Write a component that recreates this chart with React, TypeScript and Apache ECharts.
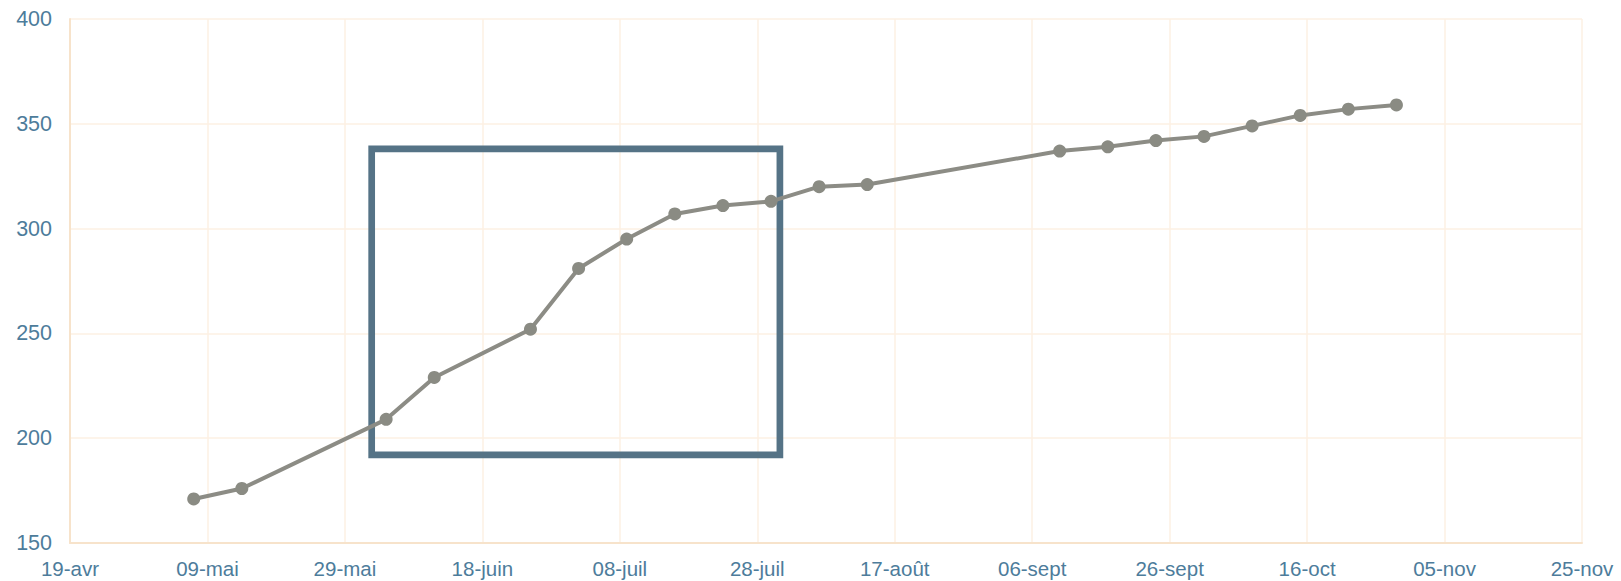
import React, { useEffect, useRef } from "react";
import * as echarts from "echarts";

// Observation dates and values
const dates = [
  "2018-05-07", "2018-05-14", "2018-06-04", "2018-06-11", "2018-06-25",
  "2018-07-02", "2018-07-09", "2018-07-16", "2018-07-23", "2018-07-30",
  "2018-08-06", "2018-08-13", "2018-09-10", "2018-09-17", "2018-09-24",
  "2018-10-01", "2018-10-08", "2018-10-15", "2018-10-22", "2018-10-29",
];
const values = [
  171, 176, 209, 229, 252, 281, 295, 307, 311, 313,
  320, 321, 337, 339, 342, 344, 349, 354, 357, 359,
];

// Axis range (dates) and tick step in days
const axisStart = "2018-04-19";
const axisEnd = "2018-11-25";
const tickStepDays = 20;
const yMin = 150;
const yMax = 400;
const yStep = 50;

// Highlight rectangle (dates and values)
const highlightStart = "2018-06-01T21:30:00Z";
const highlightEnd = "2018-07-31T07:00:00Z";
const highlightLow = 192;
const highlightHigh = 338;

const frMonths = ["janv", "févr", "mars", "avr", "mai", "juin", "juil", "août", "sept", "oct", "nov", "déc"];

const DAY = 86400000;
const toMs = (d: string) => Date.parse(d.length === 10 ? d + "T00:00:00Z" : d);
const START = toMs(axisStart);
const toDay = (d: string) => (toMs(d) - START) / DAY;

function fmt(day: number) {
  const dt = new Date(START + Math.round(day) * DAY);
  const dd = String(dt.getUTCDate()).padStart(2, "0");
  return dd + "-" + frMonths[dt.getUTCMonth()];
}

export default function App() {
  const ref = useRef<HTMLDivElement>(null);
  useEffect(() => {
    document.body.style.margin = "0";
    const chart = echarts.init(ref.current!, null, { renderer: "svg" });
    const font = "'Liberation Sans', Arial, sans-serif";
    const labelColor = "#4D7C9B";
    chart.setOption({
      animation: false,
      backgroundColor: "#ffffff",
      grid: { left: 70, right: 39, top: 19, bottom: 38, containLabel: false },
      xAxis: {
        type: "value",
        min: 0,
        max: toDay(axisEnd),
        interval: tickStepDays,
        axisLine: { show: true, lineStyle: { color: "#F7E3CB", width: 2 } },
        axisTick: { show: false },
        splitLine: { show: true, lineStyle: { color: "#FCF0E3", width: 1.5 } },
        axisLabel: {
          formatter: (v: number) => fmt(v),
          color: labelColor,
          fontFamily: font,
          fontSize: 20.5,
          margin: 15,
          showMaxLabel: true,
          showMinLabel: true,
        },
      },
      yAxis: {
        type: "value",
        min: yMin,
        max: yMax,
        interval: yStep,
        axisLine: { show: true, lineStyle: { color: "#F7E3CB", width: 2 } },
        axisTick: { show: false },
        splitLine: { show: true, lineStyle: { color: "#FCF0E3", width: 1.5 } },
        axisLabel: {
          color: labelColor,
          fontFamily: font,
          fontSize: 21.5,
          margin: 18,
        },
      },
      series: [
        {
          type: "line",
          data: dates.map((d, i) => [toDay(d), values[i]]),
          symbol: "circle",
          symbolSize: 13,
          lineStyle: { color: "#8C8C85", width: 4 },
          itemStyle: { color: "#8A8B83" },
          z: 2,
          markArea: {
            silent: true,
            label: { show: false },
            itemStyle: {
              color: "rgba(0,0,0,0)",
              borderColor: "#557386",
              borderWidth: 6.7,
            },
            data: [
              [
                { xAxis: toDay(highlightStart), yAxis: highlightLow },
                { xAxis: toDay(highlightEnd), yAxis: highlightHigh },
              ],
            ],
          },
        },
      ],
    });
    return () => chart.dispose();
  }, []);
  return <div ref={ref} style={{ width: 1621, height: 581 }} />;
}
